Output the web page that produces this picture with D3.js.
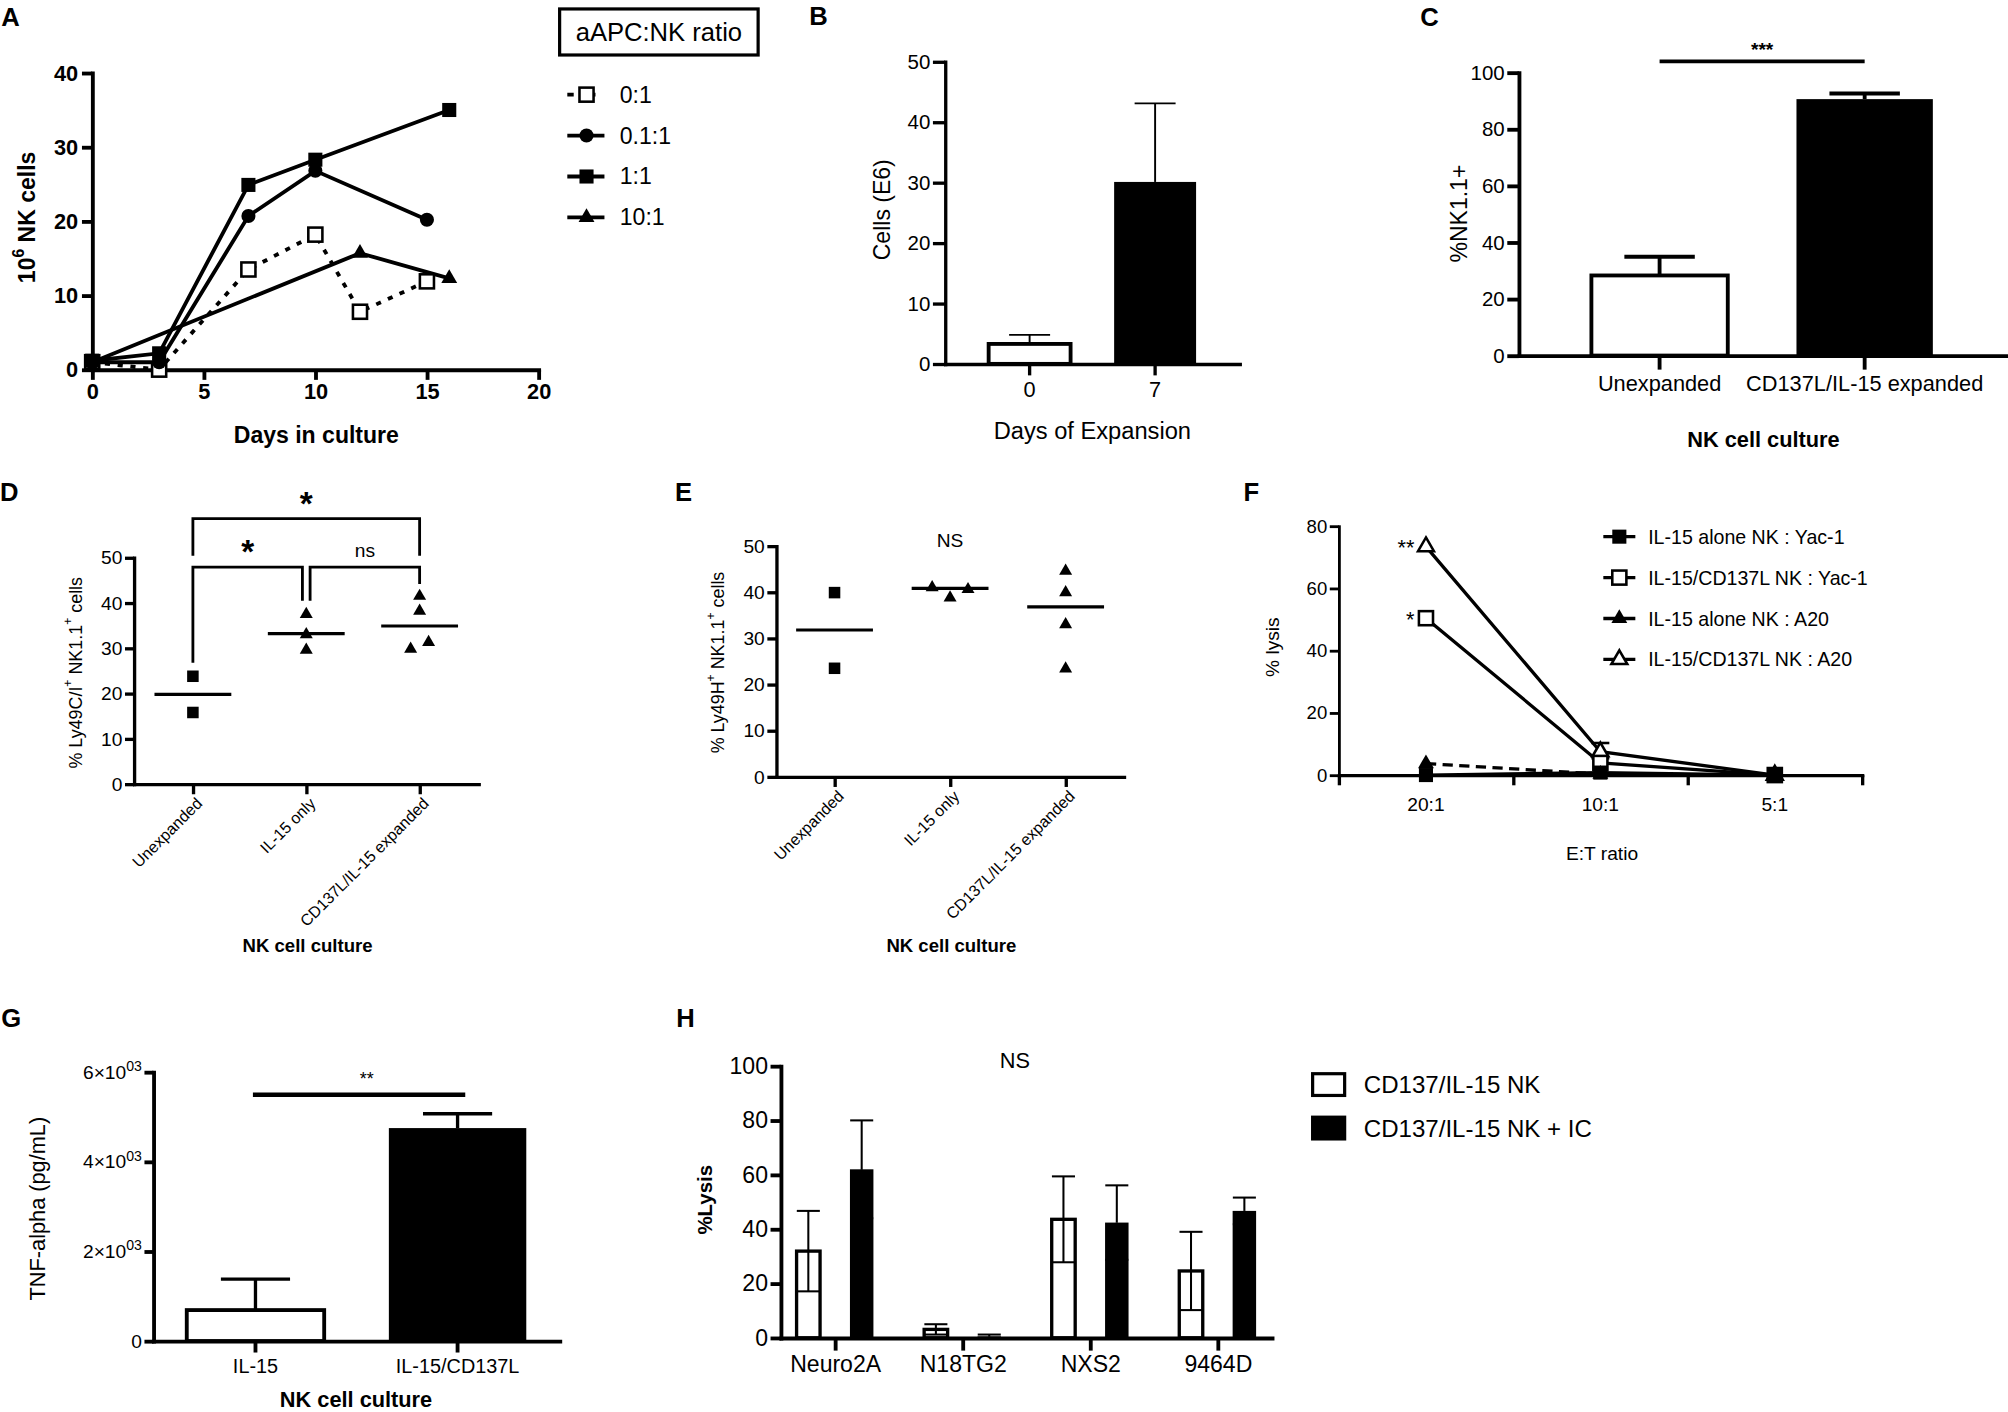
<!DOCTYPE html>
<html><head><meta charset="utf-8">
<script src="https://cdn.jsdelivr.net/npm/d3@7/dist/d3.min.js"></script>
<style>html,body{margin:0;padding:0;background:#fff;overflow:hidden}svg{display:block}</style>
</head><body>
<script>
// ================= DATA =================
// Panel A : NK expansion by aAPC:NK ratio
const legendTitleA = "aAPC:NK ratio";
const ratioLabels = ["0:1", "0.1:1", "1:1", "10:1"];
const daysR0 = [0, 3, 7, 10, 12, 15];
const cellsR0 = [1, 0, 13.5, 18.2, 7.8, 11.9];
const daysR01 = [0, 3, 7, 10, 15];
const cellsR01 = [1, 1, 20.7, 26.8, 20.2];
const daysR1 = [0, 3, 7, 10, 16];
const cellsR1 = [1.2, 2.2, 24.9, 28.3, 35];
const daysR10 = [0, 12, 16];
const cellsR10 = [1, 15.7, 12.3];
const xTicksA = [0, 5, 10, 15, 20];
const yTicksA = [0, 10, 20, 30, 40];

// Panel B : cells over days of expansion
const daysB = ["0", "7"];
const cellsB = [3.3, 30.1];
const cellsErrB = [1.5, 13.0];
const yTicksB = [0, 10, 20, 30, 40, 50];

// Panel C : %NK1.1+
const cultureC = ["Unexpanded", "CD137L/IL-15 expanded"];
const nkC = [28.3, 90.6];
const nkErrC = [6.6, 2.0];
const yTicksC = [0, 20, 40, 60, 80, 100];
const sigC = "***";

// Panels D/E : scatter with means
const groupsDE = ["Unexpanded", "IL-15 only", "CD137L/IL-15 expanded"];
const ly49ciGroup = [0, 0, 1, 1, 1, 2, 2, 2, 2];
const ly49ciValue = [23.8, 15.8, 37.5, 33.0, 29.6, 41.5, 38.2, 29.8, 31.3];
const ly49ciMean = [19.8, 33.2, 34.9];
const ly49hGroup = [0, 0, 1, 1, 1, 2, 2, 2, 2];
const ly49hValue = [39.9, 23.5, 41.0, 38.8, 40.6, 44.6, 39.9, 33.0, 23.4];
const ly49hMean = [31.8, 40.8, 36.8];
const yTicksDE = [0, 10, 20, 30, 40, 50];
// brackets: [fromGroup, toGroup, topValue, legFromValue, legToValue, label]
const bracketsD = [
  [0, 2, 58.6, 50.4, 50.4, "*"],
  [0, 1, 47.9, 26.8, 40.5, "*"],
  [1, 2, 47.9, 40.5, 44.2, "ns"]
];
const sigE = "NS";

// Panel F : % lysis vs E:T ratio
const etRatios = ["20:1", "10:1", "5:1"];
const seriesNamesF = ["IL-15 alone NK : Yac-1", "IL-15/CD137L NK : Yac-1", "IL-15 alone NK : A20", "IL-15/CD137L NK : A20"];
const lysisAloneYac = [0, 0.8, 0];
const lysisCD137Yac = [50.4, 3.9, 0];
const lysisCD137YacErr = [0, 1.5, 0];
const lysisAloneA20 = [3.7, 0.3, 0];
const lysisCD137A20 = [73.4, 7.5, 0];
const lysisCD137A20Err = [0, 2.8, 0];
const sigF = ["", "*", "", "**"];
const yTicksF = [0, 20, 40, 60, 80];

// Panel G : TNF-alpha
const cultureG = ["IL-15", "IL-15/CD137L"];
const tnfG = [690, 4750];
const tnfErrG = [690, 320];
const yTicksG = [0, 2000, 4000, 6000];
const sigG = "**";

// Panel H : % lysis of cell lines
const cellLines = ["Neuro2A", "N18TG2", "NXS2", "9464D"];
const legendH = ["CD137/IL-15 NK", "CD137/IL-15 NK + IC"];
const lysisNK = [31.9, 3.1, 43.6, 24.6];
const lysisNKErr = [14.8, 1.9, 15.8, 14.4];
const lysisNKIC = [62.0, 0.5, 42.4, 46.7];
const lysisNKICErr = [18.0, 0.7, 13.7, 4.9];
const yTicksH = [0, 20, 40, 60, 80, 100];
const sigH = "NS";

// ================= DRAWING =================
const W = 1568, H = 1104;
const FONT = "'Liberation Sans', Arial, Helvetica, sans-serif";
const svg = d3.select("body").append("svg")
  .attr("width", 2008).attr("height", 1412)
  .attr("viewBox", `0 0 ${W} ${H}`).attr("preserveAspectRatio", "none")
  .style("font-family", FONT);
svg.append("rect").attr("width", W).attr("height", H).attr("fill", "#fff");

function styleAxis(g, sw, fs, weight) {
  g.attr("font-family", null).attr("font-size", null);
  g.select(".domain").attr("stroke", "#000").attr("stroke-width", sw).attr("stroke-linecap", "square");
  g.selectAll(".tick line").attr("stroke", "#000").attr("stroke-width", sw);
  g.selectAll(".tick text").attr("fill", "#000").style("font-size", fs + "px").style("font-weight", weight || "normal");
}
function label(g, x, y, txt, fs, opts = {}) {
  const t = g.append("text").attr("x", x).attr("y", y)
    .attr("text-anchor", opts.anchor || "middle")
    .attr("dominant-baseline", opts.baseline || "central")
    .style("font-size", fs + "px").style("font-weight", opts.weight || "normal")
    .attr("fill", "#000");
  if (opts.rotate) t.attr("transform", `rotate(${opts.rotate},${x},${y})`);
  if (Array.isArray(txt)) {
    let up = false;
    txt.forEach(([s, sup]) => {
      const ts = t.append("tspan").text(s);
      if (sup) { ts.attr("dy", -fs * 0.4).style("font-size", (fs * 0.68) + "px"); up = true; }
      else if (up) { ts.attr("dy", fs * 0.4); up = false; }
    });
  } else t.text(txt);
  return t;
}
function panelLetter(x, y, l) {
  svg.append("text").attr("x", x).attr("y", y).text(l)
    .style("font-size", "20px").style("font-weight", "bold").attr("fill", "#000");
}
function marker(g, type, x, y, s) {
  const open = type.endsWith("-open");
  const base = type.replace("-open", "");
  const fill = open ? "#fff" : "#000";
  if (base === "square")
    g.append("rect").attr("x", x - s / 2).attr("y", y - s / 2).attr("width", s).attr("height", s)
      .attr("fill", fill).attr("stroke", "#000").attr("stroke-width", open ? 2 : 0);
  else if (base === "circle")
    g.append("circle").attr("cx", x).attr("cy", y).attr("r", s / 2).attr("fill", fill);
  else if (base === "triangle")
    g.append("path").attr("d", d3.symbol(d3.symbolTriangle, s * s * 0.55)())
      .attr("transform", `translate(${x},${y})`).attr("fill", fill)
      .attr("stroke", "#000").attr("stroke-width", open ? 2 : 0);
}
function errBar(g, x, y0, y1, cap, sw) {
  g.append("line").attr("x1", x).attr("x2", x).attr("y1", y0).attr("y2", y1).attr("stroke", "#000").attr("stroke-width", sw);
  g.append("line").attr("x1", x - cap / 2).attr("x2", x + cap / 2).attr("y1", y1).attr("y2", y1).attr("stroke", "#000").attr("stroke-width", sw);
}

// ---------- Panel A ----------
{
  panelLetter(1, 20, "A");
  const g = svg.append("g");
  const x = d3.scaleLinear().domain([0, 20]).range([72, 420.5]);
  const y = d3.scaleLinear().domain([0, 40]).range([289, 57]);
  g.append("g").attr("transform", `translate(0,${y(0)})`)
    .call(d3.axisBottom(x).tickValues(xTicksA).tickSize(8).tickSizeOuter(0).tickPadding(3))
    .call(styleAxis, 3, 17, "bold");
  g.append("g").attr("transform", `translate(${x(0)},0)`)
    .call(d3.axisLeft(y).tickValues(yTicksA).tickSize(8).tickSizeOuter(0).tickPadding(3))
    .call(styleAxis, 3, 17, "bold");
  const seriesA = [
    { name: ratioLabels[0], days: daysR0, vals: cellsR0, m: "square-open", dash: "4,6" },
    { name: ratioLabels[1], days: daysR01, vals: cellsR01, m: "circle", dash: null },
    { name: ratioLabels[2], days: daysR1, vals: cellsR1, m: "square", dash: null },
    { name: ratioLabels[3], days: daysR10, vals: cellsR10, m: "triangle", dash: null }
  ];
  const line = d3.line().x(d => x(d[0])).y(d => y(d[1]));
  seriesA.forEach(s => {
    g.append("path").attr("d", line(d3.zip(s.days, s.vals))).attr("fill", "none")
      .attr("stroke", "#000").attr("stroke-width", 3).attr("stroke-dasharray", s.dash);
  });
  seriesA.forEach(s => s.days.forEach((d, i) => marker(g, s.m, x(d), y(s.vals[i]), 11)));
  label(g, 247, 340, "Days in culture", 18, { weight: "bold" });
  label(g, 21, 170, [["10"], ["6", 1], [" NK cells"]], 18, { weight: "bold", rotate: -90 });
  // legend
  g.append("rect").attr("x", 437).attr("y", 7).attr("width", 155).attr("height", 36)
    .attr("fill", "none").attr("stroke", "#000").attr("stroke-width", 2.5);
  label(g, 514.5, 25, legendTitleA, 20);
  seriesA.forEach((s, i) => {
    const ly = 74 + i * 32;
    g.append("line").attr("x1", 443).attr("x2", 472).attr("y1", ly).attr("y2", ly)
      .attr("stroke", "#000").attr("stroke-width", 3).attr("stroke-dasharray", s.dash ? "5,12" : null);
    marker(g, s.m, 458, ly, 11);
    label(g, 484, ly, s.name, 18, { anchor: "start" });
  });
}

// ---------- Panel B ----------
{
  panelLetter(632, 19.5, "B");
  const g = svg.append("g");
  const x = d3.scaleBand().domain(daysB).range([738, 968]).paddingInner(0.347).paddingOuter(0.347);
  const y = d3.scaleLinear().domain([0, 50]).range([284.5, 48.2]);
  daysB.forEach((d, i) => {
    const bx = x(d), bw = x.bandwidth();
    errBar(g, bx + bw / 2, y(cellsB[i]), y(cellsB[i] + cellsErrB[i]), 32, 1.5);
    g.append("rect").attr("x", bx).attr("y", y(cellsB[i])).attr("width", bw).attr("height", y(0) - y(cellsB[i]))
      .attr("fill", i === 0 ? "#fff" : "#000").attr("stroke", "#000").attr("stroke-width", i === 0 ? 3 : 0);
  });
  g.append("g").attr("transform", `translate(0,${y(0)})`)
    .call(d3.axisBottom(x).tickSize(9).tickSizeOuter(0).tickPadding(5))
    .call(styleAxis, 2.6, 17);
  g.append("g").attr("transform", `translate(738,0)`)
    .call(d3.axisLeft(y).tickValues(yTicksB).tickSize(9.5).tickSizeOuter(0).tickPadding(2))
    .call(styleAxis, 2.6, 16);
  label(g, 689, 164, "Cells (E6)", 18, { rotate: -90 });
  label(g, 853, 337, "Days of Expansion", 18.5);
}

// ---------- Panel C ----------
{
  panelLetter(1109, 20, "C");
  const g = svg.append("g");
  const x = d3.scaleBand().domain(cultureC).range([1186, 1566]).paddingInner(0.335).paddingOuter(0.354);
  const y = d3.scaleLinear().domain([0, 100]).range([278, 56.7]);
  cultureC.forEach((c, i) => {
    const bx = x(c), bw = x.bandwidth();
    errBar(g, bx + bw / 2, y(nkC[i]), y(nkC[i] + nkErrC[i]), 55, 3);
    g.append("rect").attr("x", bx).attr("y", y(nkC[i])).attr("width", bw).attr("height", y(0) - y(nkC[i]))
      .attr("fill", i === 0 ? "#fff" : "#000").attr("stroke", "#000").attr("stroke-width", i === 0 ? 3 : 0);
  });
  g.append("g").attr("transform", `translate(0,${y(0)})`)
    .call(d3.axisBottom(x).tickSize(11).tickSizeOuter(0).tickPadding(5))
    .call(styleAxis, 3, 17);
  g.append("g").attr("transform", `translate(1186,0)`)
    .call(d3.axisLeft(y).tickValues(yTicksC).tickSize(9).tickSizeOuter(0).tickPadding(2))
    .call(styleAxis, 3, 16);
  const x0 = x(cultureC[0]) + x.bandwidth() / 2, x1 = x(cultureC[1]) + x.bandwidth() / 2;
  g.append("line").attr("x1", x0).attr("x2", x1).attr("y1", 48).attr("y2", 48).attr("stroke", "#000").attr("stroke-width", 3);
  label(g, (x0 + x1) / 2, 39, sigC, 15, { weight: "bold" });
  label(g, 1139, 167, "%NK1.1+", 18, { rotate: -90 });
  label(g, 1377, 344, "NK cell culture", 17, { weight: "bold" });
}

// ---------- Panels D & E ----------
function swarmOffsets(groups, values, y, thresh) {
  const off = new Array(values.length).fill(0);
  d3.groups(d3.range(values.length), i => groups[i]).forEach(([, idx]) => {
    idx.sort((a, b) => values[a] - values[b]);
    const clusters = [];
    idx.forEach((i, k) => {
      if (k > 0 && Math.abs(y(values[i]) - y(values[idx[k - 1]])) < thresh) clusters[clusters.length - 1].push(i);
      else clusters.push([i]);
    });
    clusters.forEach(cl => {
      const placed = [];
      cl.forEach(i => {
        for (const o of [0, 1, -1, 2, -2]) {
          if (!placed.some(j => off[j] === o && Math.abs(y(values[i]) - y(values[j])) < thresh)) { off[i] = o; break; }
        }
        placed.push(i);
      });
      const ext = d3.extent(cl, i => off[i]);
      const c = (ext[0] + ext[1]) / 2;
      cl.forEach(i => off[i] -= c);
    });
  });
  return off;
}
function scatterPanel(opts) {
  const g = svg.append("g");
  const x = d3.scalePoint().domain(groupsDE).range(opts.xr).padding(opts.pad);
  const y = d3.scaleLinear().domain([0, 50]).range(opts.yr);
  g.append("g").attr("transform", `translate(0,${y(0)})`)
    .call(d3.axisBottom(x).tickSize(8).tickSizeOuter(0).tickFormat(""))
    .call(styleAxis, 2.6, 13);
  g.append("g").attr("transform", `translate(${opts.xr[0]},0)`)
    .call(d3.axisLeft(y).tickValues(yTicksDE).tickSize(7).tickSizeOuter(0).tickPadding(2))
    .call(styleAxis, 2.6, 15);
  const off = swarmOffsets(opts.groups, opts.values, y, 8.5);
  opts.values.forEach((v, i) => {
    const gi = opts.groups[i];
    marker(g, gi === 0 ? "square" : "triangle", x(groupsDE[gi]) + off[i] * 14, y(v), 9);
  });
  opts.means.forEach((m, i) => {
    const cx = x(groupsDE[i]);
    g.append("line").attr("x1", cx - 30).attr("x2", cx + 30).attr("y1", y(m)).attr("y2", y(m))
      .attr("stroke", "#000").attr("stroke-width", 2.5);
  });
  groupsDE.forEach(gn => {
    label(g, x(gn) + 5, y(0) + 13, gn, 12.5, { anchor: "end", rotate: -45 });
  });
  label(g, opts.ylx, opts.yly, opts.ylabel, 14, { rotate: -90 });
  label(g, (opts.xr[0] + opts.xr[1]) / 2 + 1, 739, "NK cell culture", 14.5, { weight: "bold" });
  return { g, x, y };
}
{
  panelLetter(0, 392, "D");
  const { g, x, y } = scatterPanel({
    xr: [104.6, 373.7], pad: 0.52, yr: [613, 436], groups: ly49ciGroup, values: ly49ciValue, means: ly49ciMean,
    ylx: 59, yly: 526, ylabel: [["% Ly49C/I"], ["+", 1], [" NK1.1"], ["+", 1], [" cells"]]
  });
  bracketsD.forEach(([a, b, top, la, lb, lab]) => {
    let xa = x(groupsDE[a]), xb = x(groupsDE[b]);
    // separate bracket ends that meet at the same level
    bracketsD.forEach(o => {
      if (o[2] === top && !(o[0] === a && o[1] === b)) {
        if (o[0] === b) xb -= 3;
        if (o[1] === a) xa += 3;
      }
    });
    g.append("path").attr("d", `M${xa},${y(la)}V${y(top)}H${xb}V${y(lb)}`)
      .attr("fill", "none").attr("stroke", "#000").attr("stroke-width", 2.2);
    if (lab === "*") label(g, (xa + xb) / 2, y(top) - 12, lab, 26, { weight: "bold" });
    else label(g, (xa + xb) / 2, y(top) - 13, lab, 15);
  });
}
{
  panelLetter(527, 392, "E");
  const { g, x, y } = scatterPanel({
    xr: [606.2, 877.6], pad: 0.504, yr: [607.3, 426.9], groups: ly49hGroup, values: ly49hValue, means: ly49hMean,
    ylx: 561, yly: 518, ylabel: [["% Ly49H"], ["+", 1], [" NK1.1"], ["+", 1], [" cells"]]
  });
  label(g, x(groupsDE[1]), 423, sigE, 15);
}

// ---------- Panel F ----------
{
  panelLetter(971, 392, "F");
  const g = svg.append("g");
  const x = d3.scaleLinear().domain([0, 6]).range([1045.4, 1454]);
  const y = d3.scaleLinear().domain([0, 80]).range([606, 411.3]);
  const xc = i => x(1 + 2 * i);
  g.append("g").attr("transform", `translate(0,${y(0)})`)
    .call(d3.axisBottom(x).tickValues([0, 2, 4, 6]).tickSize(8).tickSizeOuter(0).tickFormat(""))
    .call(styleAxis, 2.6, 15);
  g.append("g").attr("transform", `translate(${x(0)},0)`)
    .call(d3.axisLeft(y).tickValues(yTicksF).tickSize(7).tickSizeOuter(0).tickPadding(2))
    .call(styleAxis, 2.2, 14.5);
  etRatios.forEach((r, i) => label(g, xc(i), 629, r, 15));
  const seriesF = [
    { name: seriesNamesF[0], vals: lysisAloneYac, err: null, m: "square", dash: null, sig: sigF[0] },
    { name: seriesNamesF[1], vals: lysisCD137Yac, err: lysisCD137YacErr, m: "square-open", dash: null, sig: sigF[1] },
    { name: seriesNamesF[2], vals: lysisAloneA20, err: null, m: "triangle", dash: "8,5", sig: sigF[2] },
    { name: seriesNamesF[3], vals: lysisCD137A20, err: lysisCD137A20Err, m: "triangle-open", dash: null, sig: sigF[3] }
  ];
  const line = d3.line().x((d, i) => xc(i)).y(d => y(d));
  seriesF.forEach(s => {
    g.append("path").attr("d", line(s.vals)).attr("fill", "none").attr("stroke", "#000")
      .attr("stroke-width", 2.6).attr("stroke-dasharray", s.dash);
    if (s.err) s.vals.forEach((v, i) => { if (s.err[i] > 0) errBar(g, xc(i), y(v), y(v + s.err[i]), 14, 2); });
  });
  [3, 1, 2, 0].forEach(k => {
    const s = seriesF[k];
    s.vals.forEach((v, i) => marker(g, s.m, xc(i), y(v), 11));
    if (s.sig) label(g, xc(0) - 9, y(s.vals[0]) + 1, s.sig, 17, { anchor: "end" });
  });
  seriesF.forEach((s, i) => {
    const ly = 419.6 + i * 32;
    g.append("line").attr("x1", 1252).attr("x2", 1277).attr("y1", ly).attr("y2", ly)
      .attr("stroke", "#000").attr("stroke-width", 2.6);
    marker(g, s.m, 1264.5, ly, 11);
    label(g, 1287, ly, s.name, 15.3, { anchor: "start" });
  });
  label(g, 994, 506, "% lysis", 15, { rotate: -90 });
  label(g, 1251, 667, "E:T ratio", 15);
}

// ---------- Panel G ----------
{
  panelLetter(1, 803, "G");
  const g = svg.append("g");
  const x = d3.scaleBand().domain(cultureG).range([119.8, 437]).paddingInner(0.32).paddingOuter(0.165);
  const y = d3.scaleLinear().domain([0, 6000]).range([1048.5, 838.2]);
  cultureG.forEach((c, i) => {
    const bx = x(c), bw = x.bandwidth();
    errBar(g, bx + bw / 2, y(tnfG[i]), y(tnfG[i] + tnfErrG[i]), 54, 2.6);
    g.append("rect").attr("x", bx).attr("y", y(tnfG[i])).attr("width", bw).attr("height", y(0) - y(tnfG[i]))
      .attr("fill", i === 0 ? "#fff" : "#000").attr("stroke", "#000").attr("stroke-width", i === 0 ? 3 : 0);
  });
  g.append("g").attr("transform", `translate(0,${y(0)})`)
    .call(d3.axisBottom(x).tickSize(9).tickSizeOuter(0).tickPadding(5))
    .call(styleAxis, 3, 15.5);
  const gy = g.append("g").attr("transform", `translate(119.8,0)`)
    .call(d3.axisLeft(y).tickValues(yTicksG).tickSize(7).tickSizeOuter(0).tickPadding(2))
    .call(styleAxis, 3, 15);
  gy.selectAll(".tick text").each(function (d) {
    const t = d3.select(this); t.text(null);
    if (d === 0) { t.text("0"); return; }
    t.append("tspan").text(`${d / 1000}×10`);
    t.append("tspan").text("03").attr("dy", -6).style("font-size", "11px");
  });
  const x0 = x(cultureG[0]) + x.bandwidth() / 2, x1 = x(cultureG[1]) + x.bandwidth() / 2;
  g.append("line").attr("x1", x0 - 2).attr("x2", x1 + 6).attr("y1", 856).attr("y2", 856).attr("stroke", "#000").attr("stroke-width", 3.5);
  label(g, (x0 + x1) / 2 + 8, 844, sigG, 14);
  label(g, 29, 945, "TNF-alpha (pg/mL)", 17, { rotate: -90 });
  label(g, 278, 1094.5, "NK cell culture", 17, { weight: "bold" });
}

// ---------- Panel H ----------
{
  panelLetter(528, 803, "H");
  const g = svg.append("g");
  const x = d3.scalePoint().domain(cellLines).range([609.7, 993.2]).padding(0.425);
  const sub = d3.scaleBand().domain(legendH).range([-30, 30]).paddingInner(0.56);
  const y = d3.scaleLinear().domain([0, 100]).range([1046, 833.5]);
  const sets = [{ v: lysisNK, e: lysisNKErr, fill: "#fff" }, { v: lysisNKIC, e: lysisNKICErr, fill: "#000" }];
  cellLines.forEach((c, i) => {
    sets.forEach((s, k) => {
      const bx = x(c) + sub(legendH[k]), bw = sub.bandwidth(), cx = bx + bw / 2;
      g.append("rect").attr("x", bx).attr("y", y(s.v[i])).attr("width", bw).attr("height", y(0) - y(s.v[i]))
        .attr("fill", s.fill).attr("stroke", "#000").attr("stroke-width", k === 0 ? 2.6 : 0);
      errBar(g, cx, y(s.v[i]), y(s.v[i] + s.e[i]), 18, 1.6);
      errBar(g, cx, y(s.v[i]), y(Math.max(0, s.v[i] - s.e[i])), 18, 1.6);
    });
  });
  g.append("g").attr("transform", `translate(0,${y(0)})`)
    .call(d3.axisBottom(x).tickSize(10).tickSizeOuter(0).tickPadding(4))
    .call(styleAxis, 3, 18);
  g.append("g").attr("transform", `translate(609.7,0)`)
    .call(d3.axisLeft(y).tickValues(yTicksH).tickSize(8).tickSizeOuter(0).tickPadding(2))
    .call(styleAxis, 3, 18);
  label(g, 792.5, 829, sigH, 17);
  label(g, 550, 938, "%Lysis", 16, { weight: "bold", rotate: -90 });
  legendH.forEach((l, k) => {
    const ly = 848 + k * 34;
    g.append("rect").attr("x", 1025).attr("y", ly - 8.5).attr("width", 25).attr("height", 17)
      .attr("fill", sets[k].fill).attr("stroke", "#000").attr("stroke-width", 2.5);
    label(g, 1065, ly, l, 18.8, { anchor: "start" });
  });
}
</script>
</body></html>
